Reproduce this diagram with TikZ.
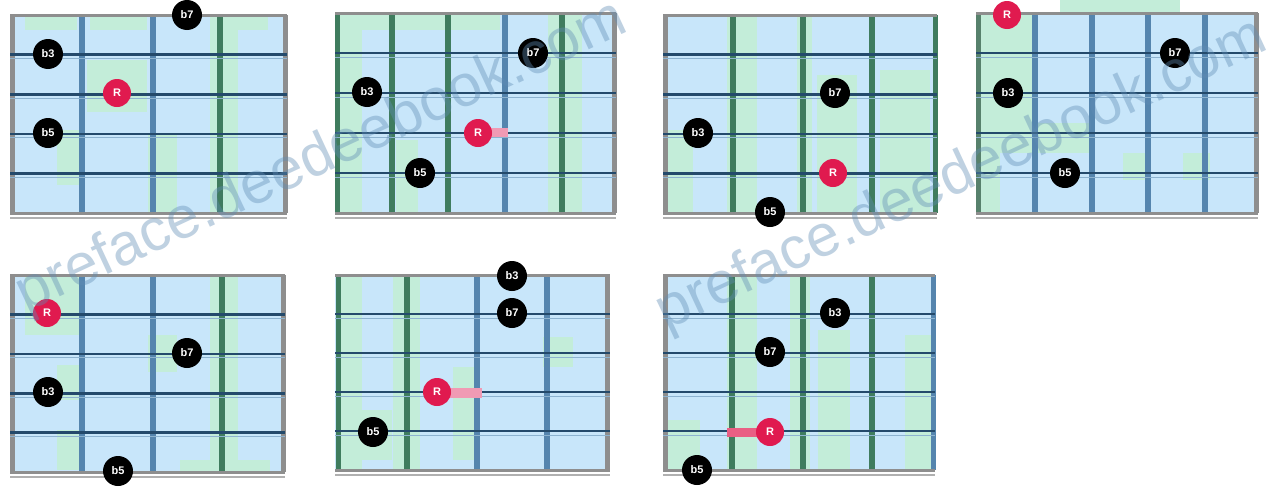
\documentclass[tikz,border=0pt]{standalone}
\usepackage{fontspec}
\setsansfont{Liberation Sans}
\definecolor{bgblue}{HTML}{C8E6FA}
\definecolor{bggreen}{HTML}{C3EDD9}
\definecolor{fretblue}{HTML}{5585AE}
\definecolor{fretgreen}{HTML}{3F7C5E}
\definecolor{edgegray}{HTML}{8E8E8E}
\definecolor{strdark}{HTML}{244A6B}
\definecolor{strlight}{HTML}{8DB3D0}
\definecolor{rootred}{HTML}{E01A4F}
\definecolor{wmblue}{HTML}{5F8CB4}
\definecolor{streak}{HTML}{F09AB4}
\tikzset{
  gr/.style={fill=bggreen},
  fretb/.style={line width=6pt, draw=fretblue},
  fretg/.style={line width=6pt, draw=fretgreen},
  sideline/.style={line width=5pt, draw=edgegray},
  strg/.style={line width=2.6pt, draw=strdark},
  strl/.style={line width=1pt, draw=strlight},
  edgeline/.style={line width=3pt, draw=edgegray},
  edgethin/.style={line width=1.5pt, draw=edgegray!70},
  note/.style={circle, fill=black, minimum size=30pt, inner sep=0pt, text=white,
    font=\sffamily\bfseries\fontsize{11}{11}\selectfont},
  root/.style={note, fill=rootred, minimum size=28pt},
  wm/.style={text=wmblue, opacity=0.4, inner sep=0pt,
    font=\sffamily\fontsize{59}{59}\selectfont},
}
% #1 x0, #2 x1, #3 y0, #4 y1
\newcommand\fbstrings[4]{%
  \foreach \k in {1,2,3,4}{
    \draw[strg] (#1,{#3+\k*(#4-#3)/5}) -- (#2,{#3+\k*(#4-#3)/5});
    \draw[strl] (#1,{#3+\k*(#4-#3)/5+4}) -- (#2,{#3+\k*(#4-#3)/5+4});
  }
  \draw[edgeline] (#1,#3) -- (#2,#3);
  \draw[edgeline] (#1,#4) -- (#2,#4);
  \draw[edgethin] (#1,{#4+5}) -- (#2,{#4+5});
}
\begin{document}
\begin{tikzpicture}[x=1pt,y=-1pt]
\useasboundingbox (0,0) rectangle (1282,490);
\fill[white] (0,0) rectangle (1282,490);

% ---------- Board 1 ----------
\fill[bgblue] (10,15) rectangle (287,213);
\fill[gr] (25,15) rectangle (77,30);
\fill[gr] (90,15) rectangle (147,30);
\fill[gr] (238,15) rectangle (268,30);
\fill[gr] (57,130) rectangle (80,185);
\fill[gr] (87,60) rectangle (147,112);
\fill[gr] (148,133) rectangle (177,213);
\fill[gr] (210,15) rectangle (238,213);
\draw[fretb] (82,15) -- (82,213);
\draw[fretb] (153,15) -- (153,213);
\draw[fretg] (220,15) -- (220,213);
\draw[sideline] (12,15) -- (12,213);
\draw[sideline] (285,15) -- (285,213);
\fbstrings{10}{287}{15}{213}

% ---------- Board 2 ----------
\fill[bgblue] (335,13) rectangle (616,213);
\fill[gr] (337,13) rectangle (362,213);
\fill[gr] (362,13) rectangle (500,30);
\fill[gr] (396,140) rectangle (418,213);
\fill[gr] (548,13) rectangle (582,213);
\draw[fretg] (392,13) -- (392,213);
\draw[fretg] (448,13) -- (448,213);
\draw[fretb] (505,13) -- (505,213);
\draw[fretg] (562,13) -- (562,213);
\draw[sideline, draw=fretgreen] (337,13) -- (337,213);
\draw[sideline] (614,13) -- (614,213);
\fbstrings{335}{616}{13}{213}

% ---------- Board 3 ----------
\fill[bgblue] (663,15) rectangle (937,213);
\fill[gr] (727,15) rectangle (757,213);
\fill[gr] (797,15) rectangle (812,213);
\fill[gr] (817,75) rectangle (857,213);
\fill[gr] (880,70) rectangle (930,213);
\fill[gr] (663,130) rectangle (693,213);
\draw[fretg] (733,15) -- (733,213);
\draw[fretg] (803,15) -- (803,213);
\draw[fretg] (872,15) -- (872,213);
\draw[sideline] (665,15) -- (665,213);
\draw[sideline, draw=fretgreen] (935,15) -- (935,213);
\fbstrings{663}{937}{15}{213}

% ---------- Board 4 ----------
\fill[bgblue] (976,13) rectangle (1258,213);
\fill[gr] (978,13) rectangle (1000,213);
\fill[gr] (1000,13) rectangle (1032,130);
\fill[gr] (1000,123) rectangle (1090,153);
\fill[gr] (1123,153) rectangle (1150,180);
\fill[gr] (1183,153) rectangle (1210,180);
\fill[gr] (1060,0) rectangle (1180,13);
\draw[fretb] (1035,13) -- (1035,213);
\draw[fretb] (1092,13) -- (1092,213);
\draw[fretb] (1148,13) -- (1148,213);
\draw[fretb] (1205,13) -- (1205,213);
\draw[sideline, draw=fretgreen!70!edgegray] (978,13) -- (978,213);
\draw[sideline] (1256,13) -- (1256,213);
\fbstrings{976}{1258}{13}{213}

% ---------- Board 5 ----------
\fill[bgblue] (10,275) rectangle (285,472);
\fill[gr] (25,275) rectangle (80,335);
\fill[gr] (57,365) rectangle (80,400);
\fill[gr] (148,335) rectangle (177,372);
\fill[gr] (210,275) rectangle (238,472);
\fill[gr] (57,430) rectangle (80,470);
\fill[gr] (180,460) rectangle (270,472);
\draw[fretb] (82,275) -- (82,472);
\draw[fretb] (153,275) -- (153,472);
\draw[fretg] (222,275) -- (222,472);
\draw[sideline] (12,275) -- (12,472);
\draw[sideline] (283,275) -- (283,472);
\fbstrings{10}{285}{275}{472}

% ---------- Board 6 ----------
\fill[bgblue] (335,275) rectangle (610,470);
\fill[gr] (337,275) rectangle (362,470);
\fill[gr] (393,275) rectangle (420,470);
\fill[gr] (453,367) rectangle (480,460);
\fill[gr] (543,337) rectangle (573,367);
\fill[gr] (355,410) rectangle (392,460);
\draw[fretg] (407,275) -- (407,470);
\draw[fretb] (477,275) -- (477,470);
\draw[fretb] (547,275) -- (547,470);
\draw[sideline, draw=fretgreen] (338,275) -- (338,470);
\draw[sideline] (607,275) -- (607,470);
\fbstrings{335}{610}{275}{470}

% ---------- Board 7 ----------
\fill[bgblue] (663,275) rectangle (935,470);
\fill[gr] (727,275) rectangle (757,470);
\fill[gr] (790,275) rectangle (810,470);
\fill[gr] (818,330) rectangle (850,470);
\fill[gr] (905,335) rectangle (933,470);
\fill[gr] (663,420) rectangle (700,470);
\draw[fretg] (732,275) -- (732,470);
\draw[fretg] (803,275) -- (803,470);
\draw[fretg] (872,275) -- (872,470);
\draw[sideline] (665,275) -- (665,470);
\draw[sideline, draw=fretblue] (933,275) -- (933,470);
\fbstrings{663}{935}{275}{470}

% ---------- streaks beside roots ----------
\fill[streak] (478,128) rectangle (508,137);
\fill[streak] (437,388) rectangle (482,398);
\fill[rootred!70] (727,428) rectangle (770,437);

% ---------- notes ----------
\node[note] (a3) at (48,54) {b3};
\node[root] (aR) at (117,93) {R};
\node[note] (a5) at (48,133) {b5};
\node[note] (a7) at (187,15) {b7};

\node[note] (b7) at (533,53) {b7};
\node[note] (b3) at (367,92) {b3};
\node[root] (bR) at (478,133) {R};
\node[note] (b5) at (420,173) {b5};

\node[note] (c7) at (835,93) {b7};
\node[note] (c3) at (698,133) {b3};
\node[root] (cR) at (833,173) {R};
\node[note] (c5) at (770,212) {b5};

\node[root] (dR) at (1007,15) {R};
\node[note] (d7) at (1175,53) {b7};
\node[note] (d3) at (1008,93) {b3};
\node[note] (d5) at (1065,173) {b5};

\node[root] (eR) at (47,313) {R};
\node[note] (e7) at (187,353) {b7};
\node[note] (e3) at (48,392) {b3};
\node[note] (e5) at (118,471) {b5};

\node[note] (f3) at (512,276) {b3};
\node[note] (f7) at (512,313) {b7};
\node[root] (fR) at (437,392) {R};
\node[note] (f5) at (373,432) {b5};

\node[note] (g3) at (835,313) {b3};
\node[note] (g7) at (770,352) {b7};
\node[root] (gR) at (770,432) {R};
\node[note] (g5) at (697,470) {b5};

% ---------- watermark ----------
\node[wm, rotate=25] (wm1) at (322,158) {preface.deedeebook.com};
\node[wm, rotate=25] (wm2) at (962,176) {preface.deedeebook.com};
\end{tikzpicture}
\end{document}
